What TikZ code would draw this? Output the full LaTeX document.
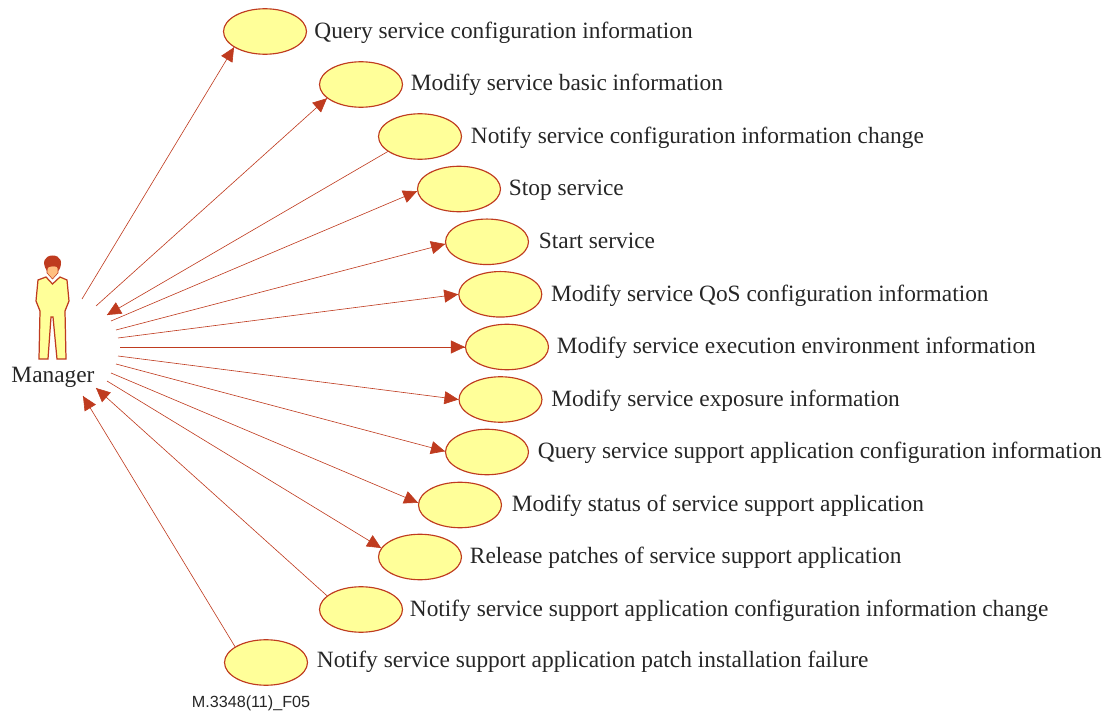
\documentclass[tikz,border=0pt]{standalone}
\usepackage{fontspec}
\setmainfont{Liberation Serif}
\setsansfont{Liberation Sans}
\usetikzlibrary{arrows.meta}
\usetikzlibrary{decorations.markings}
\usetikzlibrary{positioning}
\usetikzlibrary{shapes.geometric}
\definecolor{linered}{HTML}{BF3B1F}
\definecolor{caseyellow}{HTML}{FFFF99}
\definecolor{skintone}{HTML}{FFBF80}
\tikzset{->/.style = {decoration={markings,
                                  mark=at position 1 with {\arrow{Triangle[length=0.28cm,width=0.26cm]}}},
                      postaction={decorate}}}
\tikzset{usecase/.style = {ellipse, draw=linered, line width=0.65pt, fill=caseyellow,
                           minimum width=1.66cm, minimum height=0.91cm, inner sep=0pt},
         casetext/.style = {font=\fontsize{13.3}{15}\selectfont, text=black!85, inner sep=0pt, yshift=-0.03cm},
         link/.style = {draw=linered, line width=0.35pt}}

\begin{document}
\begin{tikzpicture}[x=0.02cm,y=-0.02cm]
        \useasboundingbox (0,0) rectangle (1107,713);
        % manager
        \draw[draw=linered, fill=caseyellow, line width=0.7pt] (38,280) -- (46,277) -- (52.5,284) -- (60,277) -- (67,280) -- (69,301) -- (65,311) -- (66,359) -- (57,359) -- (53,317) -- (51,317) -- (48,359) -- (39,359) -- (40,311) -- (36,301) -- cycle;
        \draw[draw=linered, fill=skintone, line width=0.3pt] (47,266) -- (58,266) -- (58,273) -- (52.5,279) -- (47,273) -- cycle;
        \fill[linered] (47,271) .. controls (41,262) and (45,255.5) .. (52.7,255.5) .. controls (60,255.5) and (64,262) .. (58.5,271) .. controls (58.5,267) and (56,266) .. (52.7,266) .. controls (50,266) and (47,267) .. (47,271) -- cycle;
        \node[font=\fontsize{13.3}{15}\selectfont, text=black!85, inner sep=0pt] (manager) at (53,377) {Manager};
        % use cases
        \node[usecase] (query) at (265,31.5) {};
        \node[casetext, right=0.14cm of query] (querytext) {Query service configuration information};
        \node[usecase] (basic) at (361,84.5) {};
        \node[casetext, right=0.15cm of basic, yshift=0.02cm] (basictext) {Modify service basic information};
        \node[usecase] (notify) at (420,136.5) {};
        \node[casetext, right=0.17cm of notify] (notifytext) {Notify service configuration information change};
        \node[usecase] (stop) at (459,189) {};
        \node[casetext, right=0.15cm of stop] (stoptext) {Stop service};
        \node[usecase] (start) at (487,241.8) {};
        \node[casetext, right=0.19cm of start, yshift=0.04cm] (starttext) {Start service};
        \node[usecase] (qos) at (500.3,294.3) {};
        \node[casetext, right=0.17cm of qos] (qostext) {Modify service QoS configuration information};
        \node[usecase] (exec) at (507,347) {};
        \node[casetext, right=0.15cm of exec, yshift=0.02cm] (exectext) {Modify service execution environment information};
        \node[usecase] (expo) at (500.5,399.5) {};
        \node[casetext, right=0.17cm of expo] (expotext) {Modify service exposure information};
        \node[usecase] (support) at (487,452) {};
        \node[casetext, right=0.17cm of support, yshift=0.02cm] (supporttext) {Query service support application configuration information};
        \node[usecase] (status) at (460,505) {};
        \node[casetext, right=0.19cm of status, yshift=0.02cm] (statustext) {Modify status of service support application};
        \node[usecase] (patch) at (420,557) {};
        \node[casetext, right=0.15cm of patch, yshift=0.02cm] (patchtext) {Release patches of service support application};
        \node[usecase] (change) at (361,609.5) {};
        \node[casetext, right=0.13cm of change] (changetext) {Notify service support application configuration information change};
        \node[usecase] (fail) at (266,662.5) {};
        \node[casetext, right=0.17cm of fail, yshift=0.04cm] (failtext) {Notify service support application patch installation failure};
        \node[font=\sffamily\fontsize{9.2}{11}\selectfont, text=black!85, inner sep=0pt] (figid) at (251,703) {M.3348(11)\_F05};
        % free ends at the manager
        \coordinate (m1) at (82,299);
        \coordinate (m2) at (96,306);
        \coordinate (m3) at (107,315);
        \coordinate (m4) at (111,321);
        \coordinate (m5) at (116,330);
        \coordinate (m6) at (118,338);
        \coordinate (m7) at (120,347);
        \coordinate (m8) at (118,356);
        \coordinate (m9) at (116,364);
        \coordinate (m10) at (111,373);
        \coordinate (m11) at (107,381);
        \coordinate (m12) at (96,388);
        \coordinate (m13) at (83,396);
        % connectors
        \draw[link, ->] (m1) -- (query.207);
        \draw[link, ->] (m2) -- (basic.202);
        \draw[link, ->] (notify.205) -- (m3);
        \draw[link, ->] (m4) -- (stop.183);
        \draw[link, ->] (m5) -- (start.183);
        \draw[link, ->] (m6) -- (qos.180);
        \draw[link, ->] (m7) -- (exec.180);
        \draw[link, ->] (m8) -- (expo.180);
        \draw[link, ->] (m9) -- (support.179);
        \draw[link, ->] (m10) -- (status.177);
        \draw[link, ->] (m11) -- (patch.167);
        \draw[link, ->] (change.158) -- (m12);
        \draw[link, ->] (fail.153) -- (m13);
    \end{tikzpicture}
\end{document}
